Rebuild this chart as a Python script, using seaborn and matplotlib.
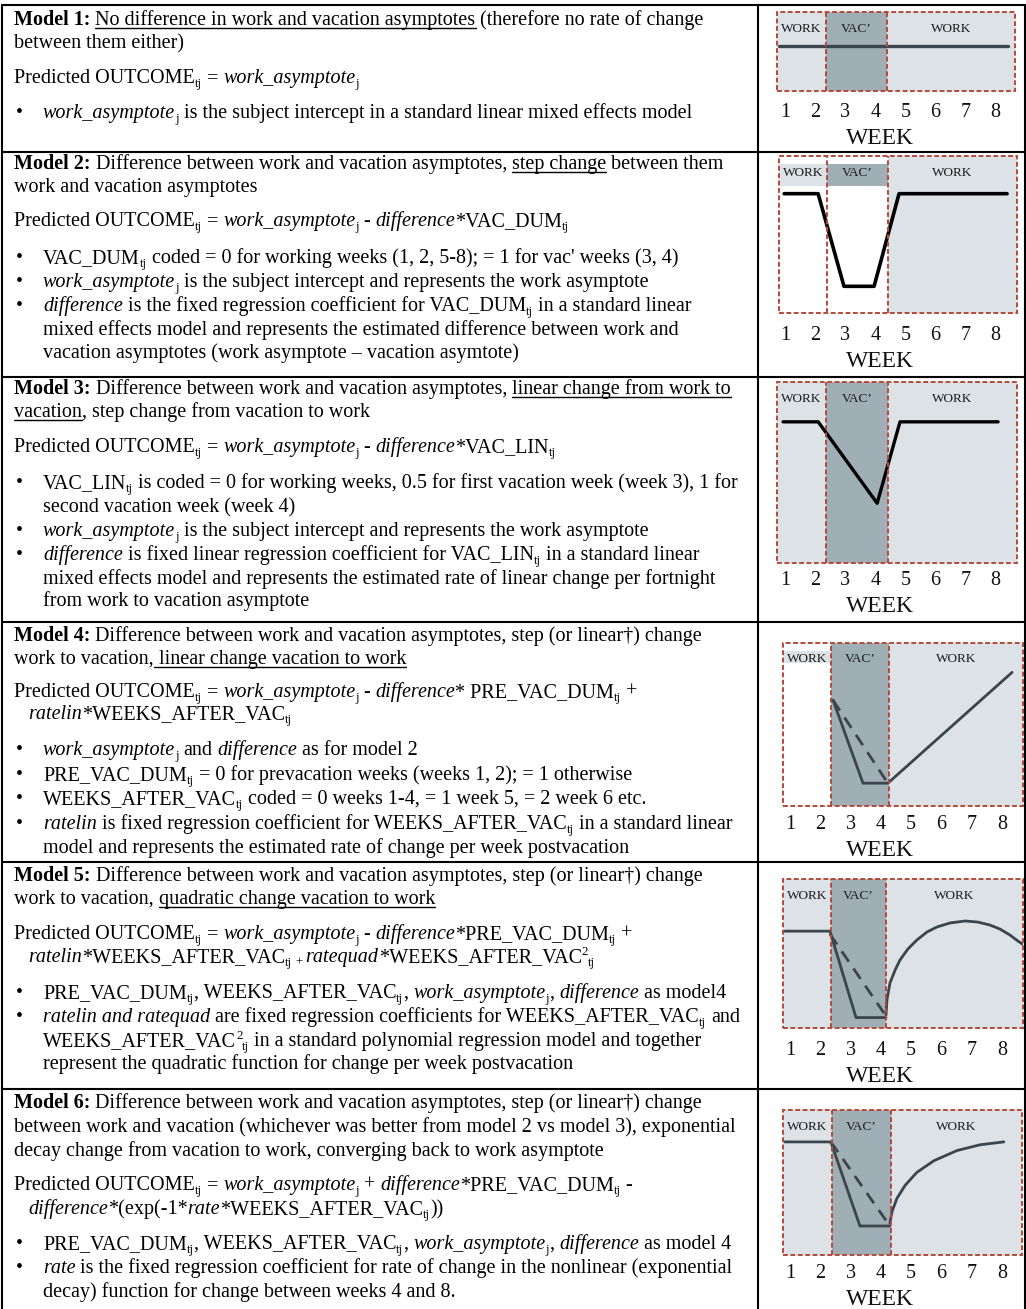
import numpy as np
import pandas as pd
import seaborn as sns
from matplotlib import pyplot as plt
from matplotlib.lines import Line2D
import matplotlib.patches as mpatches

sns.set_style("white")
plt.rcParams['font.family'] = ['Liberation Serif', 'DejaVu Serif']

# ---------------- data (week units, outcome 0-100)
weeks = list(range(1, 9))
period_names = ["WORK", "VAC\u2019", "WORK"]

# boundaries: start, vacation start, vacation end, end (in weeks)
m1_edges = [0.73, 2.36, 4.39, 8.64]
m2_edges = [0.80, 2.40, 4.42, 8.71]
m3_edges = [0.73, 2.36, 4.42, 8.71]
m4_edges = [0.77, 2.35, 4.27, 8.69]
m5_edges = [0.77, 2.35, 4.17, 8.69]
m6_edges = [0.77, 2.39, 4.33, 8.66]

m1_week = [0.80, 8.40]
m1_out = [57, 57]

m2_week = [0.97, 2.10, 2.96, 3.96, 4.79, 8.38]
m2_out = [76, 76, 17, 17, 76, 76]

m3_week = [0.93, 2.10, 4.06, 4.82, 8.08]
m3_out = [78, 78, 33, 78, 78]

m4_week = [2.42, 3.41, 4.23, 8.33]
m4_out = [65, 14, 14, 82]
m4_lin_week = [2.42, 4.23]
m4_lin_out = [65, 14]

m5_week = [0.83, 2.32, 3.18, 4.17]
m5_out = [65, 65, 7, 7]
m5_lin_week = [2.32, 4.17]
m5_lin_out = [63, 8]
m5_post_week = [4.17, 4.20, 4.30, 4.47, 4.63, 4.89, 5.19, 5.52, 5.85, 6.28,
                6.78, 7.20, 7.60, 7.93, 8.26, 8.52, 8.72]
m5_post_out = [8.7, 18.8, 30.2, 38.9, 45.6, 53.0, 59.1, 64.4, 67.8, 70.5,
               71.8, 71.1, 69.1, 66.4, 62.4, 58.4, 55.7]

m6_week = [0.83, 2.35, 3.31, 4.30]
m6_out = [78, 78, 20, 20]
m6_lin_week = [2.35, 4.30]
m6_lin_out = [78, 20]
m6_post_week = [4.30, 4.37, 4.53, 4.80, 5.19, 5.75, 6.51, 7.27, 8.06]
m6_post_out = [22, 30, 39, 48, 57, 65, 72, 76, 78]

# ---------------- text of the left column: (indent, baseline px, parts)
# part flags: b bold, i italic, u underline, _ subscript, ^ superscript
rows_text = [
    ('m', 22, [("Model 1:", "b"), (" ", ""), ("No difference in work and vacation asymptotes", "u"),
               (" (therefore no rate of change", "")]),
    ('m', 45, [("between them either)", "")]),
    ('m', 80, [("Predicted OUTCOME", ""), ("tj", "_"), (" = ", ""), ("work_asymptote", "i"), ("j", "_")]),
    ('b', 115, [("work_asymptote", "i"), ("j", "_"),
                (" is the subject intercept in a standard linear mixed effects model", "")]),

    ('m', 166, [("Model 2:", "b"), (" Difference between work and vacation asymptotes, ", ""),
                ("step change", "u"), (" between them", "")]),
    ('m', 189, [("work and vacation asymptotes", "")]),
    ('m', 223, [("Predicted OUTCOME", ""), ("tj", "_"), (" = ", ""), ("work_asymptote", "i"), ("j", "_"),
                (" - ", ""), ("difference", "i"), ("*VAC_DUM", ""), ("tj", "_")]),
    ('b', 260, [("VAC_DUM", ""), ("tj", "_"), (" coded = 0 for working weeks (1, 2, 5-8); = 1 for vac' weeks (3, 4)", "")]),
    ('b', 284, [("work_asymptote", "i"), ("j", "_"), (" is the subject intercept and represents the work asymptote", "")]),
    ('b', 308, [("difference", "i"), (" is the fixed regression coefficient for VAC_DUM", ""), ("tj", "_"),
                (" in a standard linear", "")]),
    ('c2', 332, [("mixed effects model and represents the estimated difference between work and", "")]),
    ('c2', 355, [("vacation asymptotes (work asymptote \u2013 vacation asymtote)", "")]),

    ('m', 391, [("Model 3:", "b"), (" Difference between work and vacation asymptotes, ", ""),
                ("linear change from work to", "u")]),
    ('m', 414, [("vacation", "u"), (", step change from vacation to work", "")]),
    ('m', 449, [("Predicted OUTCOME", ""), ("tj", "_"), (" = ", ""), ("work_asymptote", "i"), ("j", "_"),
                (" - ", ""), ("difference", "i"), ("*VAC_LIN", ""), ("tj", "_")]),
    ('b', 485, [("VAC_LIN", ""), ("tj", "_"),
                (" is coded = 0 for working weeks, 0.5 for first vacation week (week 3), 1 for", "")]),
    ('c2', 509, [("second vacation week (week 4)", "")]),
    ('b', 533, [("work_asymptote", "i"), ("j", "_"), (" is the subject intercept and represents the work asymptote", "")]),
    ('b', 557, [("difference", "i"), (" is fixed linear regression coefficient for VAC_LIN", ""), ("tj", "_"),
                (" in a standard linear", "")]),
    ('c2', 581, [("mixed effects model and represents the estimated rate of linear change per fortnight", "")]),
    ('c2', 603, [("from work to vacation asymptote", "")]),

    ('m', 638, [("Model 4:", "b"), (" Difference between work and vacation asymptotes, step (or linear\u2020) change", "")]),
    ('m', 661, [("work to vacation,", ""), (" linear change vacation to work", "u")]),
    ('m', 694, [("Predicted OUTCOME", ""), ("tj", "_"), (" = ", ""), ("work_asymptote", "i"), ("j", "_"),
                (" - ", ""), ("difference", "i"), ("* PRE_VAC_DUM", ""), ("tj", "_"), (" +", "")]),
    ('c', 716, [("ratelin", "i"), ("*WEEKS_AFTER_VAC", ""), ("tj", "_")]),
    ('b', 752, [("work_asymptote", "i"), ("j", "_"), (" and ", ""), ("difference", "i"), (" as for model 2", "")]),
    ('b', 777, [("PRE_VAC_DUM", ""), ("tj", "_"), (" = 0 for prevacation weeks (weeks 1, 2); = 1 otherwise", "")]),
    ('b', 801, [("WEEKS_AFTER_VAC", ""), ("tj", "_"), (" coded = 0 weeks 1-4, = 1 week 5, = 2 week 6 etc.", "")]),
    ('b', 826, [("ratelin", "i"), (" is fixed regression coefficient for WEEKS_AFTER_VAC", ""), ("tj", "_"),
                (" in a standard linear", "")]),
    ('c2', 850, [("model and represents the estimated rate of change per week postvacation", "")]),

    ('m', 878, [("Model 5:", "b"), (" Difference between work and vacation asymptotes, step (or linear\u2020) change", "")]),
    ('m', 901, [("work to vacation, ", ""), ("quadratic change vacation to work", "u")]),
    ('m', 936, [("Predicted OUTCOME", ""), ("tj", "_"), (" = ", ""), ("work_asymptote", "i"), ("j", "_"),
                (" - ", ""), ("difference", "i"), ("*PRE_VAC_DUM", ""), ("tj", "_"), (" +", "")]),
    ('c', 959, [("ratelin", "i"), ("*WEEKS_AFTER_VAC", ""), ("tj", "_"), (" + ", "_"), ("ratequad", "i"),
                ("*WEEKS_AFTER_VAC", ""), ("2", "^"), ("tj", "_")]),
    ('b', 995, [("PRE_VAC_DUM", ""), ("tj", "_"), (", WEEKS_AFTER_VAC", ""), ("tj", "_"), (", ", ""),
                ("work_asymptote", "i"), ("j", "_"), (", ", ""), ("difference", "i"), (" as model4", "")]),
    ('b', 1019, [("ratelin and ratequad", "i"), (" are fixed regression coefficients for WEEKS_AFTER_VAC", ""),
                 ("tj", "_"), (" and", "")]),
    ('c2', 1043, [("WEEKS_AFTER_VAC", ""), ("2", "^"), ("tj", "_"),
                  (" in a standard polynomial regression model and together", "")]),
    ('c2', 1066, [("represent the quadratic function for change per week postvacation", "")]),

    ('m', 1105, [("Model 6:", "b"), (" Difference between work and vacation asymptotes, step (or linear\u2020) change", "")]),
    ('m', 1129, [("between work and vacation (whichever was better from model 2 vs model 3), exponential", "")]),
    ('m', 1153, [("decay change from vacation to work, converging back to work asymptote", "")]),
    ('m', 1187, [("Predicted OUTCOME", ""), ("tj", "_"), (" = ", ""), ("work_asymptote", "i"), ("j", "_"),
                 (" + ", ""), ("difference", "i"), ("*PRE_VAC_DUM", ""), ("tj", "_"), (" -", "")]),
    ('c', 1211, [("difference", "i"), ("*(exp(-1*", ""), ("rate", "i"), ("*WEEKS_AFTER_VAC", ""), ("tj", "_"), ("))", "")]),
    ('b', 1246, [("PRE_VAC_DUM", ""), ("tj", "_"), (", WEEKS_AFTER_VAC", ""), ("tj", "_"), (", ", ""),
                 ("work_asymptote", "i"), ("j", "_"), (", ", ""), ("difference", "i"), (" as model 4", "")]),
    ('b', 1270, [("rate", "i"), (" is the fixed regression coefficient for rate of change in the nonlinear (exponential", "")]),
    ('c2', 1294, [("decay) function for change between weeks 4 and 8.", "")]),
]

# ---------------- figure
W, H = 1026, 1309
fh = plt.figure(figsize=(W / 100, H / 100), dpi=100)
fh.patch.set_facecolor("white")
renderer = fh.canvas.get_renderer()
FS = 14.5
SHIFT = 3
indent = {'m': 14, 'c': 28, 'b': 43, 'c2': 43}


def fx(x):
    return x / W


def fy(y):
    return 1 - y / H


def font_kw(fl):
    small = ('_' in fl) or ('^' in fl)
    return dict(fontsize=FS * 0.64 if small else FS,
                fontweight='bold' if 'b' in fl else 'normal',
                fontstyle='italic' if 'i' in fl else 'normal',
                color='black')


def text_width(s, kw):
    t1 = fh.text(0, 0, "|" + s + "|", **kw)
    t2 = fh.text(0, 0, "||", **kw)
    w = t1.get_window_extent(renderer).width - t2.get_window_extent(renderer).width
    t1.remove()
    t2.remove()
    return w


def draw_line(x, y, parts):
    for txt, fl in parts:
        kw = font_kw(fl)
        dy = 4 if '_' in fl else (-7 if '^' in fl else 0)
        lead = txt[:len(txt) - len(txt.lstrip(' '))]
        core = txt.strip(' ')
        w = text_width(txt, kw)
        if core:
            fh.text(fx(x + text_width(lead, kw)), fy(y + dy), core, ha='left', va='baseline', **kw)
        if 'u' in fl:
            fh.add_artist(Line2D([fx(x), fx(x + w)], [fy(y + 2.5), fy(y + 2.5)],
                                 transform=fh.transFigure, color='black', lw=1.0))
        x += w


for kind, base, parts in rows_text:
    if kind == 'b':
        fh.text(fx(16), fy(base + SHIFT), "\u2022", ha='left', va='baseline', fontsize=FS, color='black')
    draw_line(indent[kind], base + SHIFT, parts)

# table rules
def hline(y, x0=1.5, x1=1024.5):
    fh.add_artist(Line2D([fx(x0), fx(x1)], [fy(y), fy(y)], transform=fh.transFigure, color='black', lw=1.5))


def vline(x, y0=4.5, y1=1309):
    fh.add_artist(Line2D([fx(x), fx(x)], [fy(y0), fy(y1)], transform=fh.transFigure, color='black', lw=1.5))


for yy in [4.5, 151.5, 376.5, 622, 861.5, 1089]:
    hline(yy)
for xx in [1.5, 758, 1024.5]:
    vline(xx)

# ---------------- schematics
LIGHT = '#dce2e6'
DARK = '#a0aeb6'
RED = '#b34a3a'
SLATE = '#3b454b'

boxes = [(777, 12, 1015, 91), (779, 156, 1017, 313), (777, 382, 1017, 563),
         (783, 643, 1023, 806), (783, 879, 1023, 1028), (783, 1110, 1022, 1255)]
tick_gap = [19, 20, 15, 16, 20, 16]
week_label_x = 880
all_edges = [m1_edges, m2_edges, m3_edges, m4_edges, m5_edges, m6_edges]
# fill mode per period: 'full', 'band' (label strip only) or None
fill_modes = [['full', 'full', 'full'], ['band', 'band', 'full'], ['full', 'full', 'full'],
              ['band', 'full', 'full'], ['full', 'full', 'full'], ['full', 'full', 'full']]
band_px = [None, (8, 30), None, (8, 20), None, None]

axes = []
for k, (x0, y0, x1, y1) in enumerate(boxes):
    ah = fh.add_axes([fx(x0), fy(y1), (x1 - x0) / W, (y1 - y0) / H])
    edges = all_edges[k]
    hpx = y1 - y0
    ah.set_xlim(edges[0], edges[-1])
    ah.set_ylim(0, 100)
    ah.set_facecolor('white')
    for s in ah.spines.values():
        s.set_visible(False)
    for p in range(3):
        col = DARK if p == 1 else LIGHT
        mode = fill_modes[k][p]
        if mode == 'full':
            ah.axvspan(edges[p], edges[p + 1], color=col, lw=0, zorder=0)
        elif mode == 'band':
            b0, b1 = band_px[k]
            ah.axvspan(edges[p], edges[p + 1], ymin=1 - b1 / hpx, ymax=1 - b0 / hpx, color=col, lw=0, zorder=0)
        ah.annotate(period_names[p], xy=((edges[p] + edges[p + 1]) / 2, 1),
                    xycoords=ah.get_xaxis_transform(), xytext=(0, -16.5), textcoords='offset pixels',
                    ha='center', va='center', fontsize=9.5, color='#1a1a1a', zorder=5)
    ah.add_patch(mpatches.Rectangle((edges[0], 0), edges[-1] - edges[0], 100, fill=False, ec=RED,
                                    lw=1.4, ls=(0, (2.5, 1.3)), clip_on=False, zorder=4))
    for d in edges[1:3]:
        ah.plot([d, d], [0, 100], color=RED, lw=1.4, ls=(0, (2.5, 1.3)), clip_on=False, zorder=4)
    ah.set_xticks(weeks)
    ah.set_xticklabels([str(w) for w in weeks])
    ah.set_yticks([])
    ah.tick_params(axis='x', length=0, pad=(tick_gap[k] - 7) * 0.72, labelsize=14.5, labelcolor='#111111')
    ah.set_xlabel("WEEK", fontsize=17, labelpad=4, color='#111111')
    ah.xaxis.label.set_x((week_label_x - x0) / (x1 - x0))
    axes.append(ah)

dash = (0, (4.5, 3))
sns.lineplot(x=m1_week, y=m1_out, ax=axes[0], color=SLATE, lw=2.4, sort=False, estimator=None, zorder=3)
sns.lineplot(x=m2_week, y=m2_out, ax=axes[1], color='black', lw=2.6, sort=False, estimator=None, zorder=3)
sns.lineplot(x=m3_week, y=m3_out, ax=axes[2], color='black', lw=2.4, sort=False, estimator=None, zorder=3)
sns.lineplot(x=m4_week, y=m4_out, ax=axes[3], color=SLATE, lw=2.0, sort=False, estimator=None, zorder=3)
sns.lineplot(x=m4_lin_week, y=m4_lin_out, ax=axes[3], color=SLATE, lw=2.0, linestyle=dash, sort=False, estimator=None, zorder=3)
sns.lineplot(x=m5_week, y=m5_out, ax=axes[4], color=SLATE, lw=2.0, sort=False, estimator=None, zorder=3)
sns.lineplot(x=m5_lin_week, y=m5_lin_out, ax=axes[4], color=SLATE, lw=2.0, linestyle=dash, sort=False, estimator=None, zorder=3)
sns.lineplot(x=m5_post_week, y=m5_post_out, ax=axes[4], color=SLATE, lw=2.0, sort=False, estimator=None, zorder=3)
sns.lineplot(x=m6_week, y=m6_out, ax=axes[5], color=SLATE, lw=2.0, sort=False, estimator=None, zorder=3)
sns.lineplot(x=m6_lin_week, y=m6_lin_out, ax=axes[5], color=SLATE, lw=2.0, linestyle=dash, sort=False, estimator=None, zorder=3)
sns.lineplot(x=m6_post_week, y=m6_post_out, ax=axes[5], color=SLATE, lw=2.0, sort=False, estimator=None, zorder=3)
for ah in axes:
    ah.set_xlim(ah.get_xlim())
    ah.set_ylim(0, 100)
    ah.set_ylabel("")

fh.savefig("out.png", dpi=100, facecolor="white")
